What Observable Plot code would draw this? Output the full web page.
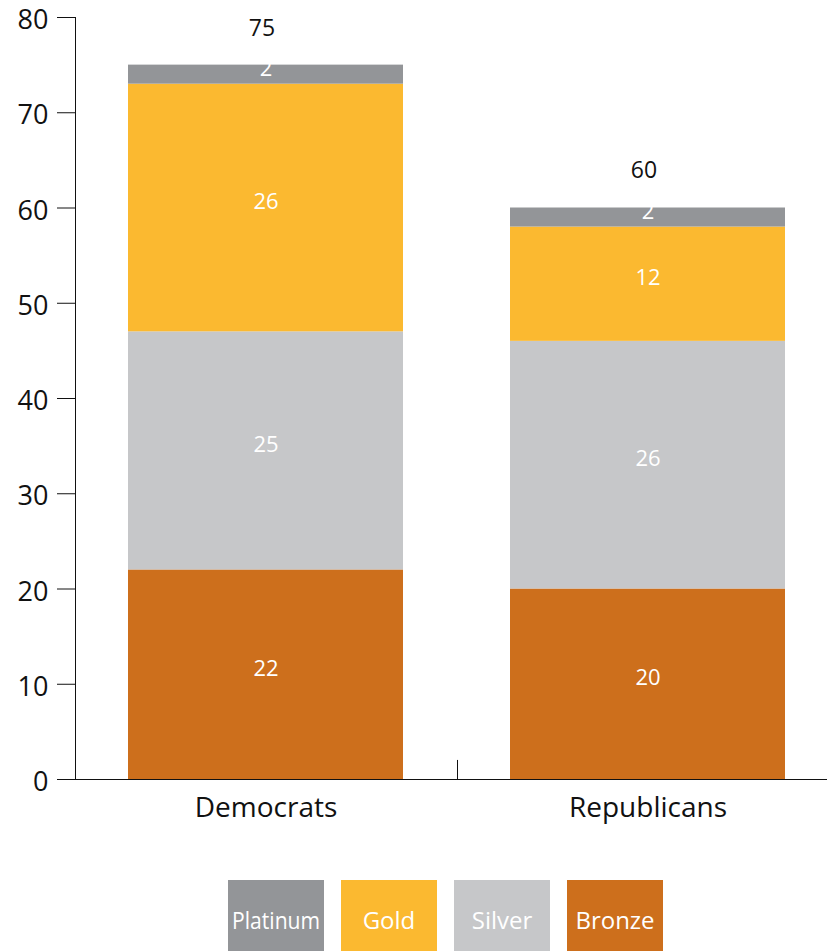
<!DOCTYPE html>
<html><head><meta charset="utf-8">
<script src="https://cdn.jsdelivr.net/npm/d3@7"></script>
<script src="https://cdn.jsdelivr.net/npm/@observablehq/plot@0.6"></script>
<style>
body{margin:0;background:#fff;font-family:"Open Sans",sans-serif;}
#legend{display:flex;gap:17px;margin-left:228px;margin-top:40px;}
.sw{width:96px;height:72px;box-sizing:border-box;padding-top:6px;display:flex;align-items:center;justify-content:center;color:#fff;font-size:24px;overflow:hidden;white-space:nowrap;}
</style></head><body><div id="chart"></div><div id="legend"></div>
<script>
const categories = ["Democrats", "Republicans"];
const series = ["Bronze", "Silver", "Gold", "Platinum"];
const democrats = [22, 25, 26, 2];
const republicans = [20, 26, 12, 2];
const colors = ["#CD6F1C", "#C6C7C9", "#FBB930", "#939598"];
const legendOrder = ["Platinum", "Gold", "Silver", "Bronze"];
const yTicks = [0, 10, 20, 30, 40, 50, 60, 70, 80];

const values = {Democrats: democrats, Republicans: republicans};
const data = categories.flatMap(c => series.map((s, i) => ({category: c, medal: s, value: values[c][i]})));
const totals = categories.map(c => ({category: c, total: d3.sum(values[c])}));

const chart = Plot.plot({
  width: 827, height: 840,
  marginTop: 17, marginBottom: 61, marginLeft: 75, marginRight: 0,
  style: {fontFamily: "Open Sans", background: "#fff", color: "#111"},
  x: {domain: categories, range: [75, 839], paddingInner: 0.28, paddingOuter: 0.14, label: null},
  y: {domain: [0, 80], label: null},
  color: {domain: series, range: colors},
  marks: [
    Plot.barY(data, {x: "category", y: "value", fill: "medal", order: series}),
    Plot.text(data, Plot.stackY({x: "category", y: "value", z: "medal", order: series,
      text: d => String(d.value), fill: "white", fontSize: 22, dy: -6})),
    Plot.text(totals, {x: "category", y: "total", text: d => String(d.total), dy: -37, dx: -4, fontSize: 23, fill: "#111"}),
    Plot.ruleY([0], {stroke: "#111"}),
    Plot.frame({anchor: "left", stroke: "#111"}),
    Plot.ruleX(["Republicans"], {y1: 0, y2: 2, dx: -190.5, stroke: "#111"}),
    Plot.axisY({ticks: yTicks, tickSize: 18, tickFormat: () => "", label: null}),
    Plot.axisY({ticks: yTicks, tickSize: 0, tickPadding: 27, fontSize: 27, dy: 3, label: null}),
    Plot.axisX({tickSize: 0, tickPadding: 18, fontSize: 28, label: null})
  ]
});
document.getElementById("chart").appendChild(chart);

const legend = document.getElementById("legend");
for (const name of legendOrder) {
  const sw = document.createElement("div");
  sw.className = "sw";
  sw.style.background = colors[series.indexOf(name)];
  const span = document.createElement("span");
  span.textContent = name;
  sw.appendChild(span);
  legend.appendChild(sw);
  const w = span.getBoundingClientRect().width;
  if (w > 88) span.style.transform = `scaleX(${88 / w})`;
}
</script>
</body></html>
